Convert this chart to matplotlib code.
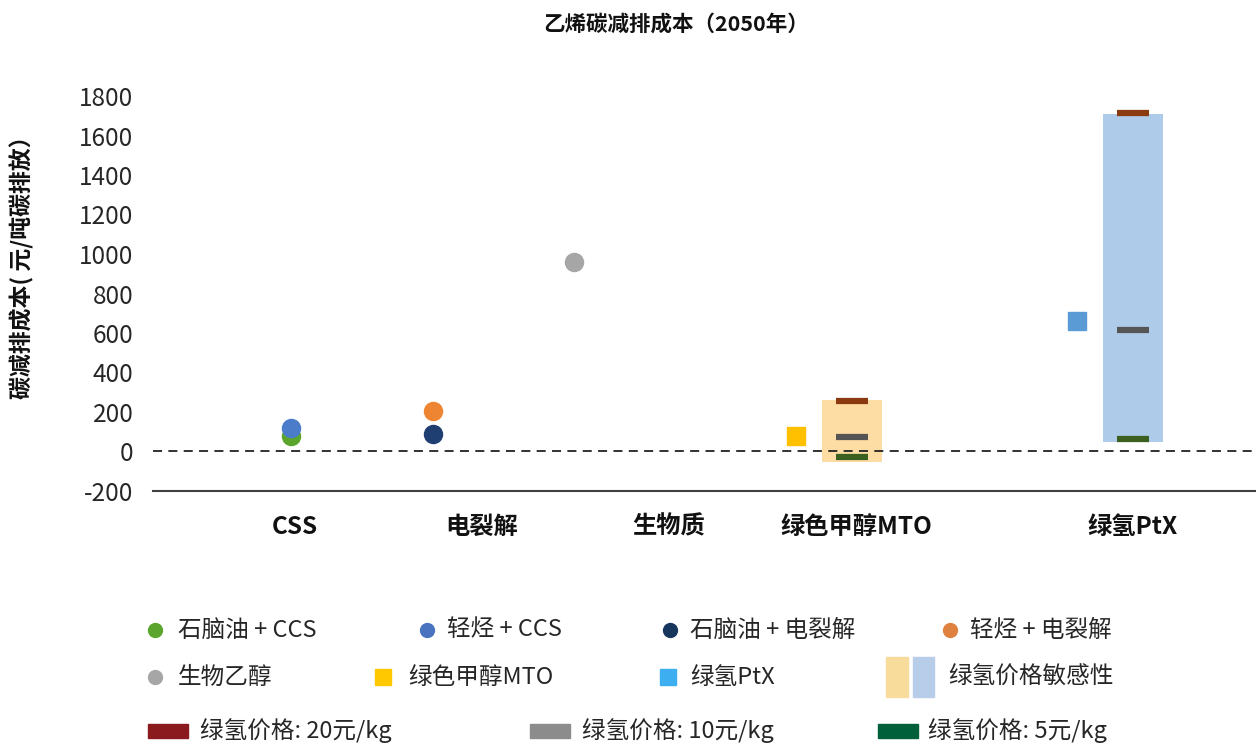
import numpy as np
import matplotlib.pyplot as plt

plt.rcParams['font.family'] = ['Noto Sans CJK SC', 'DejaVu Sans']
plt.rcParams['axes.unicode_minus'] = False

# category labels on the x axis (position in category units)
cat_labels = ["CSS", "电裂解", "生物质", "绿色甲醇MTO", "绿氢PtX"]
cat_pos = [1.0, 2.0, 3.0, 4.0, 5.48]

# point series: name, x, y
pt_names = ["石脑油 + CCS", "轻烃 + CCS", "石脑油 + 电裂解", "轻烃 + 电裂解", "生物乙醇", "绿色甲醇MTO", "绿氢PtX"]
pt_x = [0.98, 0.98, 1.74, 1.74, 2.49, 3.68, 5.18]
pt_y = [76, 121, 91, 207, 957, 81, 663]
pt_marker = ["o", "o", "o", "o", "o", "s", "s"]
pt_color = ["#5BA52E", "#4A7CC9", "#1F3F73", "#EE8532", "#A6A6A6", "#FFC000", "#5B9BD5"]

# green hydrogen price sensitivity ranges
sens_x = [3.98, 5.48]
sens_low = [-51, 46]
sens_high = [263, 1711]
sens_color = ["#FDDDA3", "#AFCBEA"]

# cost at different green hydrogen prices
h2_20 = [258, 1716]
h2_10 = [71, 613]
h2_5 = [-30, 61]

W, H = 1256, 747
fig = plt.figure(figsize=(W / 100, H / 100), dpi=100)
ax = fig.add_axes([153 / W, 1 - 491 / H, (W - 153) / W, (491 - 96) / H])

ax.bar(sens_x, np.array(sens_high) - np.array(sens_low), bottom=sens_low,
       width=0.32, color=sens_color, zorder=1)
hw = 0.085
ax.hlines(h2_20, np.array(sens_x) - hw, np.array(sens_x) + hw, color="#8B3A0F", lw=4.5, zorder=3)
ax.hlines(h2_10, np.array(sens_x) - hw, np.array(sens_x) + hw, color="#555555", lw=4.5, zorder=3)
ax.hlines(h2_5, np.array(sens_x) - hw, np.array(sens_x) + hw, color="#3A5F1E", lw=4.5, zorder=3)

for x, y, m, c in zip(pt_x, pt_y, pt_marker, pt_color):
    ax.plot(x, y, marker=m, color=c, markersize=13 if m == "o" else 12.5, ls="none", zorder=4)

ax.axhline(0, color="#222222", ls=(0, (5, 3.5)), lw=1.3, zorder=2)

ax.set_xlim(0.24, 6.14)
ax.set_ylim(-200, 1800)
ax.set_yticks(np.arange(-200, 1801, 200))
ax.tick_params(axis="y", length=0, pad=14, labelsize=17.5, labelcolor="#262626")
ax.set_xticks(cat_pos)
ax.set_xticklabels(cat_labels, fontweight="bold", fontsize=17.5)
ax.tick_params(axis="x", length=0, pad=17, labelcolor="#111111")
for s in ["left", "top", "right"]:
    ax.spines[s].set_visible(False)
ax.spines["bottom"].set_color("#404040")
ax.spines["bottom"].set_linewidth(1.5)

fig.text(676 / W, 1 - 24 / H, "乙烯碳减排成本（2050年）", ha="center", va="center",
         fontsize=15.5, fontweight="bold", color="#111111")
fig.text(22 / W, 1 - 262 / H, "碳减排成本( 元/吨碳排放）", rotation=90, ha="center", va="center",
         fontsize=16.5, fontweight="bold", color="#111111")

# legend drawn in pixel coordinates
lg = fig.add_axes([0, 0, 1, 1], zorder=-1)
lg.set_xlim(0, W)
lg.set_ylim(H, 0)
lg.axis("off")
fs = 17
tc = "#262626"
row1 = [(155, 178, "#5BA52E"), (427, 447, "#4A74C0"), (670, 690, "#17365D"), (950, 970, "#E0823F")]
for (mx, tx, c), name in zip(row1, pt_names[:4]):
    lg.plot(mx, 630, "o", color=c, markersize=10)
    lg.text(tx, 630, name, va="center", fontsize=fs, color=tc)
lg.plot(155, 677, "o", color="#A6A6A6", markersize=10)
lg.text(178, 677, pt_names[4], va="center", fontsize=fs, color=tc)
lg.plot(383, 677, "s", color="#FFC800", markersize=12)
lg.text(408, 677, pt_names[5], va="center", fontsize=fs, color=tc)
lg.plot(668, 677, "s", color="#3DAEEF", markersize=12)
lg.text(690, 677, pt_names[6], va="center", fontsize=fs, color=tc)
lg.add_patch(plt.Rectangle((886, 657), 22, 40, color="#F8DC9C"))
lg.add_patch(plt.Rectangle((913, 657), 21, 40, color="#B8CDE9"))
lg.text(948, 677, "绿氢价格敏感性", va="center", fontsize=fs, color=tc)
row3 = [(148, 200, "#8B1A1E", "绿氢价格: 20元/kg"), (530, 582, "#8C8C8C", "绿氢价格: 10元/kg"),
        (878, 928, "#00603A", "绿氢价格: 5元/kg")]
for rx, tx, c, t in row3:
    lg.add_patch(plt.Rectangle((rx, 724), 40, 14, color=c))
    lg.text(tx, 731, t, va="center", fontsize=fs, color=tc)

fig.savefig("out.png", dpi=100)
